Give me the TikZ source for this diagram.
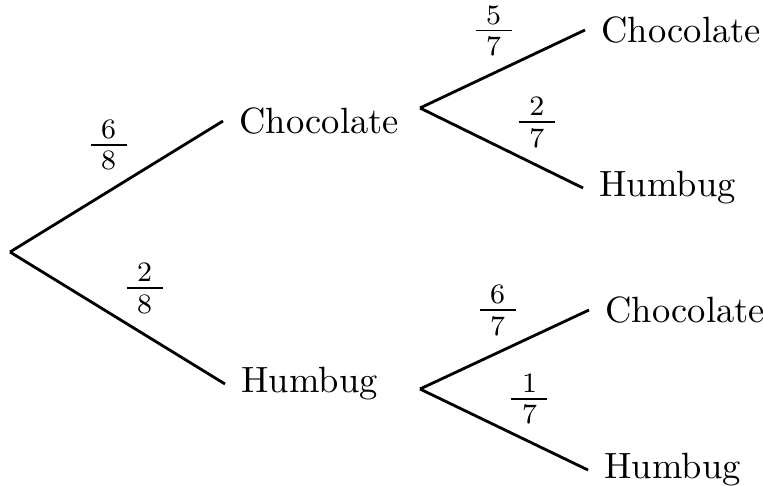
\documentclass[tikz,border=0pt]{standalone}
\usepackage{amsmath}
\usetikzlibrary{positioning, calc}
\newcommand{\pfrac}[2]{\frac{\hspace{0.25em}#1\hspace{0.25em}}{\hspace{0.25em}#2\hspace{0.25em}}}
\tikzset{
	leaf/.style={anchor=west, inner xsep=4.5pt, inner ysep=2pt},
	prob/.style={inner sep=1pt, font=\large},
	branch/.style={line width=0.8pt}
}

\begin{document}
\begin{tikzpicture}[
        leaf/.style={anchor=west, inner xsep=4.5pt, inner ysep=2pt, font=\fontsize{10.4}{12}\selectfont},
        prob/.style={inner sep=1pt, font=\large},
        branch/.style={line width=0.8pt}
    ]
        \useasboundingbox (0,0) rectangle (7.63,-4.85);

        \coordinate (root) at (0.10, -2.52);
        \node[leaf] (c1) at (2.23, -1.21) {Chocolate};
        \node[leaf] (h1) at (2.25, -3.84) {Humbug};

        \coordinate (b1) at (4.20, -1.08);
        \coordinate (b2) at (4.20, -3.89);
        \node[leaf] (c2) at (5.85, -0.30) {Chocolate};
        \node[leaf] (h2) at (5.83, -1.88) {Humbug};
        \node[leaf] (c3) at (5.89, -3.10) {Chocolate};
        \node[leaf] (h3) at (5.88, -4.70) {Humbug};

        \draw[branch] (root) -- node[prob, above left, pos=0.59] {$\pfrac{6}{8}$} (c1.west);
        \draw[branch] (root) -- node[prob, above right, pos=0.50] {$\pfrac{2}{8}$} (h1.west);
        \draw[branch] (b1) -- node[prob, above left, pos=0.61] {$\pfrac{5}{7}$} (c2.west);
        \draw[branch] (b1) -- node[prob, above right, pos=0.55] {$\pfrac{2}{7}$} (h2.west);
        \draw[branch] (b2) -- node[prob, above left, pos=0.62] {$\pfrac{6}{7}$} (c3.west);
        \draw[branch] (b2) -- node[prob, above right, pos=0.49] {$\pfrac{1}{7}$} (h3.west);
    \end{tikzpicture}
\end{document}
